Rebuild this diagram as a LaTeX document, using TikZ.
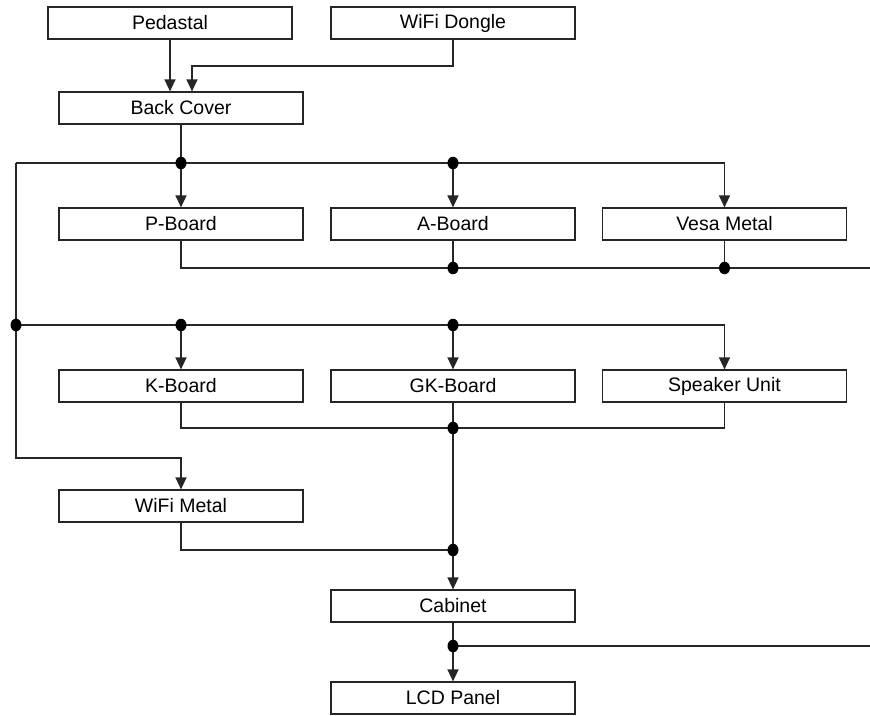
\documentclass[tikz,border=0pt]{standalone}
\usepackage{fontspec}
\setmainfont{Liberation Sans}
\usetikzlibrary{arrows.meta}
\tikzset{
  box/.style={draw=black!85, line width=1.2pt, minimum width=244pt, minimum height=32pt, inner sep=0pt, font=\fontsize{19.5}{20}\selectfont},
  conn/.style={draw=black!85, line width=1.3pt},
  arr/.style={conn, -{Triangle[length=12pt,width=11pt]}},
  dot/.style={fill=black}
}
\begin{document}
\begin{tikzpicture}[x=1pt,y=-1pt]
\useasboundingbox (0,0) rectangle (870,715);
% boxes
\node[box] (ped)  at (170,23)   {Pedastal};
\node[box] (dong) at (453,23)   {WiFi Dongle};
\node[box] (back) at (181,108)  {Back Cover};
\node[box] (pb)   at (181,224)  {P-Board};
\node[box] (ab)   at (453,224)  {A-Board};
\node[box] (vesa) at (724.5,224) {Vesa Metal};
\node[box] (kb)   at (181,386)  {K-Board};
\node[box] (gk)   at (453,386)  {GK-Board};
\node[box] (spk)  at (724.5,386) {Speaker Unit};
\node[box] (wm)   at (181,506)  {WiFi Metal};
\node[box] (cab)  at (453,606)  {Cabinet};
\node[box] (lcd)  at (453,698)  {LCD Panel};
% junction coordinates
\coordinate (d1) at (192,66);
\coordinate (j0) at (16,163);
\coordinate (j1) at (181,163);
\coordinate (j2) at (453,163);
\coordinate (j3) at (724.5,163);
\coordinate (a1) at (453,268);
\coordinate (v1) at (724.5,268);
\coordinate (r1) at (870,268);
\coordinate (k1) at (16,325);
\coordinate (k2) at (181,325);
\coordinate (k3) at (453,325);
\coordinate (k4) at (724.5,325);
\coordinate (m1) at (453,428);
\coordinate (w0) at (16,458);
\coordinate (w1) at (181,458);
\coordinate (c1) at (453,550);
\coordinate (c2) at (453,646);
\coordinate (r2) at (870,646);
% top
\draw[arr] (ped.south) -- (ped.south |- back.north);
\draw[arr] (dong.south) |- (d1) -- (d1 |- back.north);
\draw[conn] (back.south) -- (j1);
\draw[conn] (j0) -- (j3);
\draw[arr] (j1) -- (pb.north);
\draw[arr] (j2) -- (ab.north);
\draw[arr] (j3) -- (vesa.north);
% row 1 outputs
\draw[conn] (pb.south) |- (r1);
\draw[conn] (ab.south) -- (a1);
\draw[conn] (vesa.south) -- (v1);
% second bus
\draw[conn] (k1) -- (k4);
\draw[arr] (k2) -- (kb.north);
\draw[arr] (k3) -- (gk.north);
\draw[arr] (k4) -- (spk.north);
% left rail
\draw[arr] (j0) -- (w0) -- (w1) -- (wm.north);
% row 2 outputs
\draw[conn] (kb.south) |- (m1) -| (spk.south);
\draw[arr] (gk.south) -- (cab.north);
\draw[conn] (wm.south) |- (c1);
% cabinet
\draw[arr] (cab.south) -- (lcd.north);
\draw[conn] (c2) -- (r2);
% dots
\foreach \p in {j1,j2,a1,v1,k1,k2,k3,m1,c1,c2}
  \fill[dot] (\p) ellipse[x radius=5.5pt, y radius=6.3pt];
\end{tikzpicture}
\end{document}
